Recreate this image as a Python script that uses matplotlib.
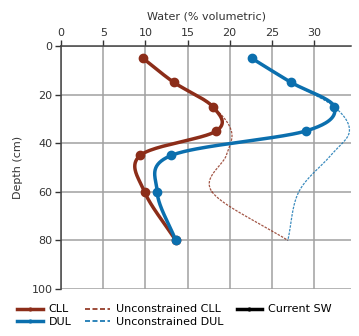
import numpy as np
import matplotlib
matplotlib.use("Agg")
import matplotlib.pyplot as plt
from matplotlib.lines import Line2D

depth = [5, 15, 25, 35, 45, 60, 80]
cll = [9.7, 13.4, 18.0, 18.4, 9.4, 9.9, 13.6]
dul = [22.6, 27.3, 32.4, 29.0, 13.1, 11.4, 13.6]
unc_cll = [9.7, 13.4, 18.0, 20.2, 19.6, 17.9, 26.9]
unc_dul = [22.6, 27.3, 32.4, 34.2, 32.0, 28.2, 26.9]
xticks = [0, 5, 10, 15, 20, 25, 30]
yticks = [0, 20, 40, 60, 80, 100]

BROWN = "#8c2d19"
BLUE = "#0b6fae"


def smooth(xs, ys, n=40):
    xs = np.asarray(xs, float)
    ys = np.asarray(ys, float)
    sx, sy = 8.47, 2.43
    P = np.column_stack([xs * sx, ys * sy])
    P = np.vstack([2 * P[0] - P[1], P, 2 * P[-1] - P[-2]])
    out = []
    for i in range(1, len(P) - 2):
        p0, p1, p2, p3 = P[i - 1], P[i], P[i + 1], P[i + 2]
        t = np.linspace(0, 1, n)[:, None]
        seg = 0.5 * ((2 * p1) + (-p0 + p2) * t + (2 * p0 - 5 * p1 + 4 * p2 - p3) * t ** 2
                     + (-p0 + 3 * p1 - 3 * p2 + p3) * t ** 3)
        out.append(seg)
    out = np.vstack(out)
    return out[:, 0] / sx, out[:, 1] / sy


fig = plt.figure(figsize=(3.59, 3.36), dpi=100)
ax = fig.add_axes([0.170, 0.140, 0.808, 0.723])

ux, uy = smooth(unc_cll, depth)
ax.plot(ux, uy, color=BROWN, lw=0.9, ls=(0, (2, 1)), alpha=0.8)
ux, uy = smooth(unc_dul, depth)
ax.plot(ux, uy, color=BLUE, lw=0.9, ls=(0, (2, 1)), alpha=0.8)

cx, cy = smooth(cll, depth)
ax.plot(cx, cy, color=BROWN, lw=2.5, solid_capstyle="round")
ax.plot(cll, depth, "o", color=BROWN, ms=6)
dx, dy = smooth(dul, depth)
ax.plot(dx, dy, color=BLUE, lw=2.5, solid_capstyle="round")
ax.plot(dul, depth, "o", color=BLUE, ms=6)

ax.set_xlim(0, 34.4)
ax.set_ylim(100, 0)
ax.set_xticks(xticks)
ax.set_yticks(yticks)
ax.xaxis.tick_top()
ax.xaxis.set_label_position("top")
ax.set_xlabel("Water (% volumetric)", fontsize=8, labelpad=6, color="#333333")
ax.set_ylabel("Depth (cm)", fontsize=8, labelpad=6, color="#333333")
ax.tick_params(axis="both", labelsize=8, length=4, width=1, colors="#333333", pad=2)
ax.grid(True, color="#a0a0a0", lw=1.1)
ax.set_axisbelow(True)
for s in ["right", "bottom"]:
    ax.spines[s].set_visible(False)
for s in ["left", "top"]:
    ax.spines[s].set_color("#444444")
    ax.spines[s].set_linewidth(1.1)

handles = [
    Line2D([], [], color=BROWN, lw=2.5, marker="o", ms=2),
    Line2D([], [], color=BLUE, lw=2.5, marker="o", ms=2),
    Line2D([], [], color=BROWN, lw=1.2, ls=(0, (3, 1.5))),
    Line2D([], [], color=BLUE, lw=1.2, ls=(0, (3, 1.5))),
    Line2D([], [], color="black", lw=2.5, marker="o", ms=2),
]
labels = ["CLL", "DUL", "Unconstrained CLL", "Unconstrained DUL", "Current SW"]
fig.legend(handles, labels, ncol=3, loc="lower left", bbox_to_anchor=(0.03, 0.008),
           frameon=False, fontsize=8, handlelength=2.3, handletextpad=0.5,
           columnspacing=1.2, labelspacing=0.2, borderaxespad=0.2)

fig.savefig("out.png", dpi=100)
